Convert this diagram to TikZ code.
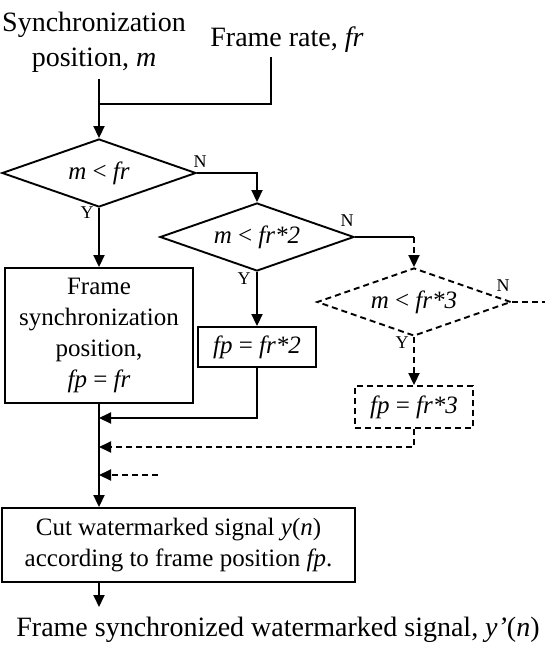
\documentclass[tikz,border=0pt]{standalone}
\usepackage{fontspec}
\setmainfont{Liberation Serif}
\usetikzlibrary{shapes.geometric,arrows.meta}
\begin{document}
\begin{tikzpicture}[x=1pt,y=-1pt,
  line width=1.9pt,
  arr/.style={-{Triangle[length=12pt,width=11pt]}},
  dsh/.style={dash pattern=on 6pt off 4pt},
  dec/.style={draw, shape=diamond, aspect=2.85, minimum width=194pt, minimum height=68pt, inner sep=0pt, font=\fontsize{25}{30}\selectfont},
  proc/.style={draw, rectangle, inner sep=0pt, align=center, font=\fontsize{25}{31}\selectfont},
  lbl/.style={font=\fontsize{28}{35}\selectfont, align=center, inner sep=0pt},
  yn/.style={font=\fontsize{18}{20}\selectfont, inner sep=0pt}]
\useasboundingbox (0,0) rectangle (548,656);

% inputs
\node[lbl] (sync) at (94,42) {Synchronization\\position, \textit{m}};
\node[lbl] (frate) at (287,40) {Frame rate, \textit{fr}};
\coordinate (frtop) at (271,57);
\coordinate (syncbot) at (99,79);
\coordinate (j1) at (99,104);

% decisions
\node[dec] (d1) at (99,173) {\textit{m} < \textit{fr}};
\node[dec] (d2) at (257,237) {\textit{m} < \textit{fr*2}};
\node[dec, dsh] (d3) at (414,302) {\textit{m} < \textit{fr*3}};

% processes
\node[proc, minimum width=188pt, minimum height=135pt] (b1) at (99,335.5)
  {Frame\\synchronization\\position,\\\textit{fp} = \textit{fr}};
\node[proc, minimum width=118pt, minimum height=40pt] (b2) at (257,347) {\textit{fp} = \textit{fr*2}};
\node[proc, dsh, minimum width=118pt, minimum height=42pt] (b3) at (414,407) {\textit{fp} = \textit{fr*3}};
\node[proc, minimum width=353pt, minimum height=74pt] (b4) at (178.5,545)
  {Cut watermarked signal \textit{y}(\textit{n})\\according to frame position \textit{fp}.};
\node[lbl] (out) at (278,630) {Frame synchronized watermarked signal, \textit{y’}(\textit{n})};

% helper coordinates
\coordinate (c23) at (414,237);
\coordinate (d3end) at (545,302);
\coordinate (m1) at (99,418);
\coordinate (m2) at (99,447);
\coordinate (m3) at (99,475);
\coordinate (s3) at (158,475);
\coordinate (outtop) at (99,607);

% connectors
\draw (syncbot) -- (j1);
\draw (frtop) |- (j1);
\draw[arr] (j1) -- (d1.north);
\draw[arr] (d1.east) -| (d2.north);
\draw[arr] (d1.south) -- (b1.north);
\draw[arr] (d2.south) -- (b2.north);
\draw (d2.east) -- (c23);
\draw[arr, dsh] (c23) -- (d3.north);
\draw[dsh] (d3.east) -- (d3end);
\draw[arr, dsh] (d3.south) -- (b3.north);
\draw[arr] (b2.south) |- (m1);
\draw[arr, dsh] (b3.south) |- (m2);
\draw[arr, dsh] (s3) -- (m3);
\draw[arr] (b1.south) -- (b1.south |- b4.north);
\draw[arr] (b4.south -| b1.south) -- (outtop);

% labels
\node[yn] (n1) at (200,162) {N};
\node[yn] (y1) at (87,213) {Y};
\node[yn] (n2) at (347,221) {N};
\node[yn] (y2) at (244,279) {Y};
\node[yn] (n3) at (503,286) {N};
\node[yn] (y3) at (402,343) {Y};
\end{tikzpicture}
\end{document}
